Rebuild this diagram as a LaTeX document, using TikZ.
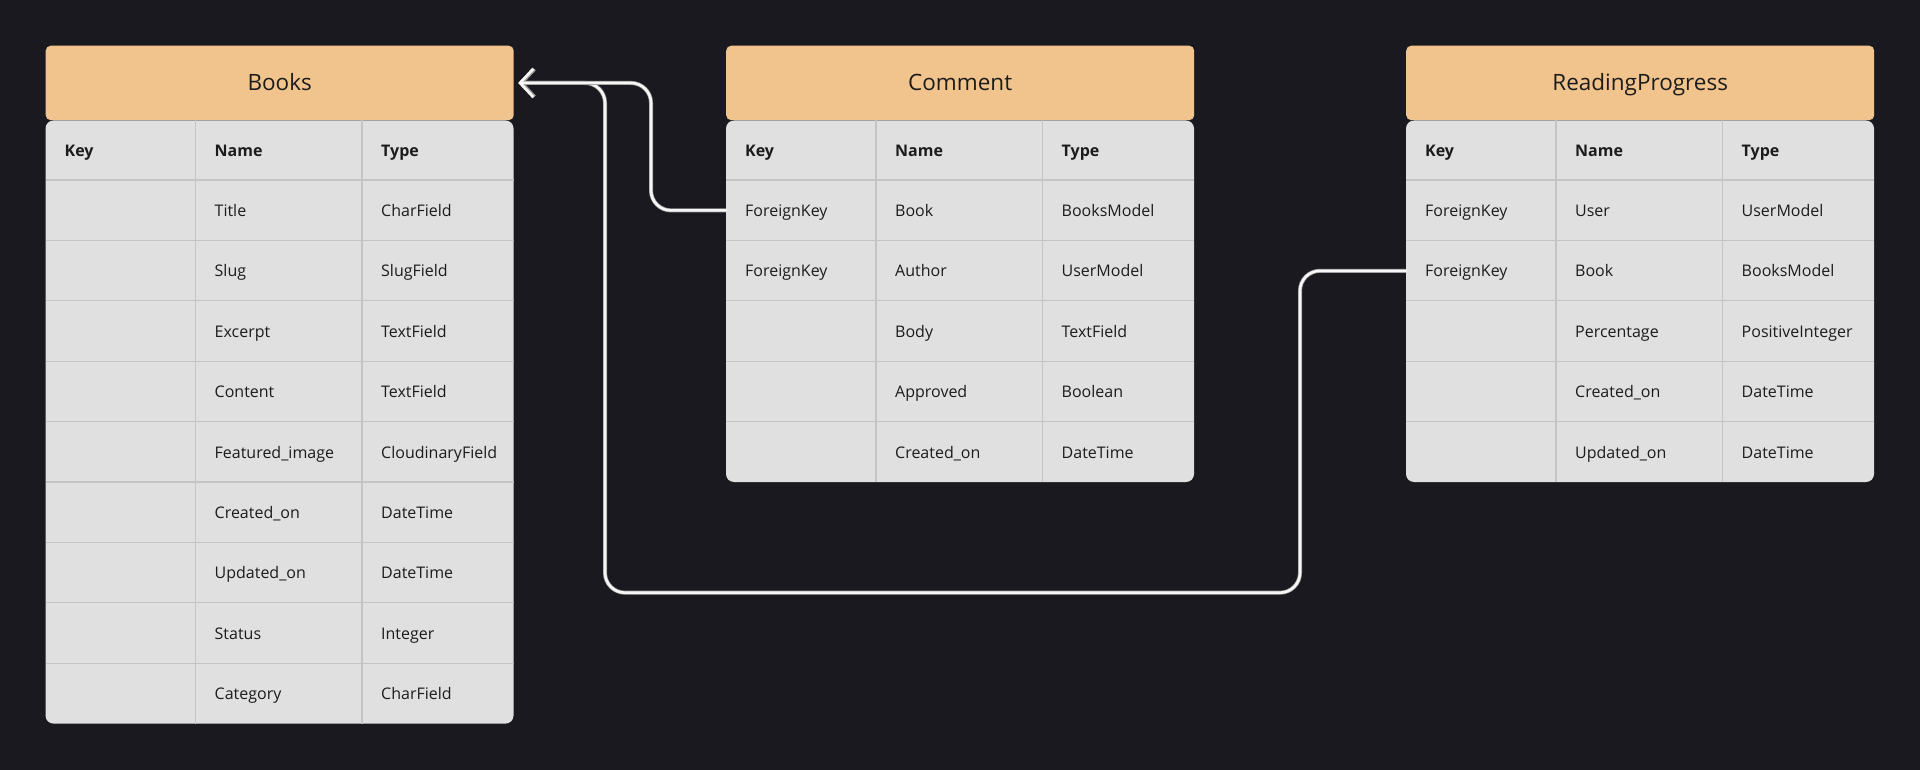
\documentclass[tikz,border=0pt]{standalone}
\usepackage{fontspec}
\setmainfont{Open Sans}
\usetikzlibrary{arrows.meta}

\definecolor{bgdark}{HTML}{1A191F}
\definecolor{headfill}{HTML}{F2C48D}
\definecolor{bodyfill}{HTML}{E0E0E0}
\definecolor{gridgray}{HTML}{C4C4C4}
\definecolor{inkdark}{HTML}{1C1C1C}
\definecolor{linkwhite}{HTML}{F6F6F6}
\definecolor{linkedge}{HTML}{9A9A9A}

\newcommand{\cellstrut}{\rule[-4pt]{0pt}{20pt}}
\newcommand{\titlestrut}{\rule[-5pt]{0pt}{26pt}}

\tikzset{
  headbox/.style={anchor=north west, fill=headfill, rounded corners=5pt,
    minimum width=468pt, minimum height=74.5pt, inner sep=0pt,
    text=inkdark, font=\fontsize{22.5}{27}\selectfont},
  cell/.style={anchor=north west, minimum height=60.4pt, inner xsep=19pt,
    inner ysep=0pt, text width=#1, align=left, text=inkdark,
    font=\fontsize{16}{20}\selectfont},
  keycell/.style={cell=112pt},
  namecell/.style={cell=128.5pt},
  typecell/.style={cell=113.5pt},
  gridrule/.style={draw=gridgray, line width=1.2pt},
  fklink/.style={draw=linkwhite, line width=2.6pt, rounded corners=20pt,
    line join=round, line cap=round,
    preaction={draw=linkedge, line width=4pt},
    {Straight Barb[length=13pt, width=28pt]}-}
}

% one table: id, left x, title, number of rows, rows key/name/type
\newcommand{\erdtable}[5]{
    \node[headbox] (#1-head) at (#2, 45.5) {\titlestrut#3};
    \fill[bodyfill, rounded corners=8pt]
        (#2, 120.5) rectangle ++(468, 59.5+#4*60.4);
    \foreach \i in {1,...,#4} {
        \draw[gridrule] (#2, 180+\i*60.4-60.4) -- ++(468, 0);
    }
    \draw[gridrule] (#2+150, 120.5) -- (#2+150, 180+#4*60.4);
    \draw[gridrule] (#2+316.5, 120.5) -- (#2+316.5, 180+#4*60.4);
    \node[keycell, minimum height=59.5pt] (#1-keyhd) at (#2, 120.5) {\cellstrut\textbf{Key}};
    \node[namecell, minimum height=59.5pt] (#1-namehd) at (#2+150, 120.5) {\cellstrut\textbf{Name}};
    \node[typecell, minimum height=59.5pt] (#1-typehd) at (#2+316.5, 120.5) {\cellstrut\textbf{Type}};
    \foreach \k/\n/\t [count=\i] in {#5} {
        \node[keycell] (#1-k\i) at (#2, 180+\i*60.4-60.4) {\mbox{\cellstrut\k}};
        \node[namecell] (#1-n\i) at (#2+150, 180+\i*60.4-60.4) {\mbox{\cellstrut\n}};
        \node[typecell] (#1-t\i) at (#2+316.5, 180+\i*60.4-60.4) {\mbox{\cellstrut\t}};
    }
}

\begin{document}
\begin{tikzpicture}[x=1pt, y=-1pt]

\fill[bgdark] (0, 0) rectangle (1920, 770);
\useasboundingbox (0, 0) rectangle (1920, 770);

% Tables
\erdtable{books}{45.5}{Books}{9}{
    /Title/CharField, /Slug/SlugField, /Excerpt/TextField,
    /Content/TextField, /Featured\_image/CloudinaryField,
    /Created\_on/DateTime, /Updated\_on/DateTime,
    /Status/Integer, /Category/CharField}
\erdtable{comment}{726}{Comment}{5}{
    ForeignKey/Book/BooksModel, ForeignKey/Author/UserModel,
    /Body/TextField, /Approved/Boolean, /Created\_on/DateTime}
\erdtable{rp}{1406}{ReadingProgress}{5}{
    ForeignKey/User/UserModel, ForeignKey/Book/BooksModel,
    /Percentage/PositiveInteger, /Created\_on/DateTime,
    /Updated\_on/DateTime}

% Foreign key links
\coordinate (rp-loop) at (605, 592.7);
\draw[fklink] ([xshift=4.5pt]books-head.east) -| (rp-loop)
    -| ([xshift=-106pt]rp-k2.west) -- (rp-k2.west);
\draw[fklink] ([xshift=4.5pt]books-head.east)
    -| ([xshift=-75pt]comment-k1.west) -- (comment-k1.west);

\end{tikzpicture}
\end{document}
